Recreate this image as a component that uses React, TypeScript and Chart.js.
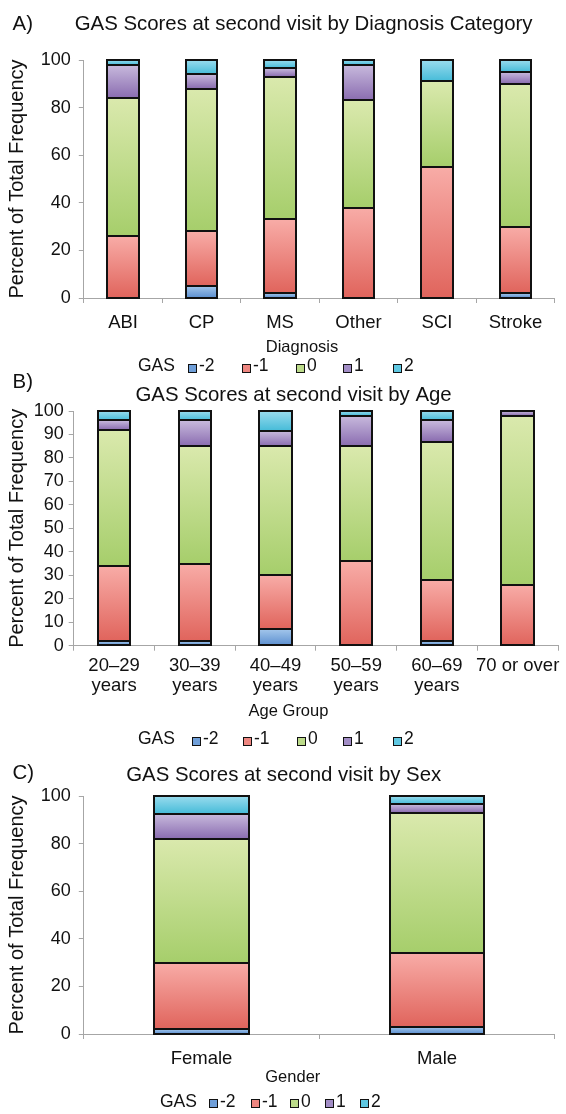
import React, { useEffect, useRef } from 'react';
import { Chart, registerables } from 'chart.js';

Chart.register(...registerables);

const FONT = '"Liberation Sans", Arial, Helvetica, sans-serif';
const AXIS = '#a6a6a6';
const INK = '#111111';

// GAS score levels and colours
const gasLevels = ['-2', '-1', '0', '1', '2'];
const gasTop = ['#a3c6eb', '#f8aca7', '#dae9ad', '#c8badd', '#9adcee'];
const gasBottom = ['#5a8ecf', '#e0645c', '#a6ce6b', '#8a6cb0', '#45bbd8'];
const gasLegend = ['#6f9fd9', '#ee8680', '#bcdb8a', '#a28dc6', '#5fc8e2'];

// Panel A: by diagnosis
const diagnosisLabels = ['ABI', 'CP', 'MS', 'Other', 'SCI', 'Stroke'];
const diagMinus2 = [0, 5, 2, 0, 0, 2];
const diagMinus1 = [26, 23, 31, 38, 55, 28];
const diagZero = [58, 60, 60, 45, 36, 60];
const diagOne = [14, 6, 3.5, 15, 0, 5];
const diagTwo = [2, 6, 3.5, 2, 9, 5];

// Panel B: by age group
const ageLabels = [
  ['20\u201329', 'years'],
  ['30\u201339', 'years'],
  ['40\u201349', 'years'],
  ['50\u201359', 'years'],
  ['60\u201369', 'years'],
  '70 or over',
];
const ageMinus2 = [2, 2, 7, 0, 2, 0];
const ageMinus1 = [32, 33, 23, 36, 26, 26];
const ageZero = [58, 50, 55, 49, 59, 72];
const ageOne = [4, 11, 6.5, 13, 9, 2];
const ageTwo = [4, 4, 8.5, 2, 4, 0];

// Panel C: by sex
const sexLabels = ['Female', 'Male'];
const sexMinus2 = [2, 3];
const sexMinus1 = [28, 31];
const sexZero = [52, 59];
const sexOne = [10.5, 3.5];
const sexTwo = [7.5, 3.5];

type Panel = {
  labels: (string | string[])[];
  series: number[][];
  step: number;
  top: number;
  height: number;
  area: { left: number; right: number; top: number; bottom: number };
  letter: string;
  letterY: number;
  title: string;
  titleX: number;
  titleY: number;
  xTitle: string;
  xTitleX: number;
  xTitleY: number;
  legendY: number;
  gasX: number;
  boxX: number[];
  xTickPad: number;
  yTickPad: number;
};

const panels: Panel[] = [
  {
    labels: diagnosisLabels,
    series: [diagMinus2, diagMinus1, diagZero, diagOne, diagTwo],
    step: 20,
    top: 0,
    height: 382,
    area: { left: 83.8, right: 554.7, top: 60, bottom: 298 },
    letter: 'A)',
    letterY: 24,
    title: 'GAS Scores at second visit by Diagnosis Category',
    titleX: 303.6,
    titleY: 24,
    xTitle: 'Diagnosis',
    xTitleX: 302,
    xTitleY: 347,
    legendY: 366.5,
    gasX: 138,
    boxX: [188, 242, 296, 343, 393],
    xTickPad: 10,
    yTickPad: 8,
  },
  {
    labels: ageLabels,
    series: [ageMinus2, ageMinus1, ageZero, ageOne, ageTwo],
    step: 10,
    top: 370,
    height: 385,
    area: { left: 73.7, right: 558, top: 411, bottom: 645.7 },
    letter: 'B)',
    letterY: 382,
    title: 'GAS Scores at second visit by Age',
    titleX: 293.6,
    titleY: 395,
    xTitle: 'Age Group',
    xTitleX: 288.5,
    xTitleY: 711,
    legendY: 739.5,
    gasX: 138,
    boxX: [192, 243, 297, 343, 393],
    xTickPad: 5,
    yTickPad: 5,
  },
  {
    labels: sexLabels,
    series: [sexMinus2, sexMinus1, sexZero, sexOne, sexTwo],
    step: 20,
    top: 750,
    height: 364,
    area: { left: 83.8, right: 554.7, top: 796, bottom: 1034 },
    letter: 'C)',
    letterY: 773,
    title: 'GAS Scores at second visit by Sex',
    titleX: 283.7,
    titleY: 775,
    xTitle: 'Gender',
    xTitleX: 292.8,
    xTitleY: 1077,
    legendY: 1102,
    gasX: 160,
    boxX: [209, 251, 290, 325, 360],
    xTickPad: 10,
    yTickPad: 8,
  },
];

function gradientFor(series: number[][], i: number) {
  return (ctx: any) => {
    const chart = ctx.chart;
    const y = chart.scales && chart.scales.y;
    if (ctx.type !== 'data' || !y || !chart.chartArea) return gasLegend[i];
    const k = ctx.dataIndex;
    let base = 0;
    for (let d = 0; d < i; d++) base += series[d][k];
    const top = y.getPixelForValue(base + series[i][k]);
    const bot = y.getPixelForValue(base);
    if (!(bot - top > 0.5)) return gasLegend[i];
    const g = chart.ctx.createLinearGradient(0, top, 0, bot);
    g.addColorStop(0, gasTop[i]);
    g.addColorStop(1, gasBottom[i]);
    return g;
  };
}

// crisp black outlines around every bar segment, from the bar elements' geometry
const outlinePlugin = {
  id: 'segmentOutline',
  afterDatasetsDraw(chart: any) {
    const ctx = chart.ctx as CanvasRenderingContext2D;
    ctx.save();
    ctx.strokeStyle = INK;
    ctx.lineWidth = 2;
    chart.data.datasets.forEach((_: any, di: number) => {
      const meta = chart.getDatasetMeta(di);
      meta.data.forEach((el: any) => {
        const { x, y, base, width } = el.getProps(['x', 'y', 'base', 'width'], true);
        if (Math.abs(base - y) < 0.5) return;
        const l = Math.round(x - width / 2);
        const r = Math.round(x + width / 2);
        const t = Math.round(Math.min(y, base));
        const b = Math.round(Math.max(y, base));
        ctx.strokeRect(l, t, r - l, b - t);
      });
    });
    ctx.restore();
  },
};

function textPlugin(p: Panel) {
  return {
    id: 'panelText',
    afterDraw(chart: any) {
      const ctx = chart.ctx as CanvasRenderingContext2D;
      const off = p.top;
      ctx.save();
      ctx.fillStyle = INK;
      ctx.textBaseline = 'middle';
      ctx.font = `20.4px ${FONT}`;
      ctx.textAlign = 'left';
      ctx.fillText(p.letter, 12.6, p.letterY - off);
      ctx.textAlign = 'center';
      ctx.fillText(p.title, p.titleX, p.titleY - off);
      ctx.font = `16.5px ${FONT}`;
      ctx.fillText(p.xTitle, p.xTitleX, p.xTitleY - off);
      ctx.font = `17.5px ${FONT}`;
      ctx.textAlign = 'left';
      ctx.fillText('GAS', p.gasX, p.legendY - off);
      gasLevels.forEach((lv, i) => {
        const bx = p.boxX[i];
        const by = Math.round(p.legendY - off - 3);
        ctx.fillStyle = gasLegend[i];
        ctx.fillRect(bx, by, 9, 9);
        ctx.strokeStyle = INK;
        ctx.lineWidth = 1;
        ctx.strokeRect(bx + 0.5, by + 0.5, 8, 8);
        ctx.fillStyle = INK;
        ctx.fillText(lv, bx + 11, p.legendY - off);
      });
      ctx.restore();
    },
  };
}

function PanelChart({ p }: { p: Panel }) {
  const ref = useRef<HTMLCanvasElement | null>(null);
  useEffect(() => {
    if (!ref.current) return;
    const chart = new Chart(ref.current, {
      type: 'bar',
      data: {
        labels: p.labels as any,
        datasets: p.series.map((d, i) => ({
          label: gasLevels[i],
          data: d,
          backgroundColor: gradientFor(p.series, i) as any,
          borderWidth: 0,
          inflateAmount: 0,
          barPercentage: 0.4,
          categoryPercentage: 1,
        })),
      },
      options: {
        responsive: false,
        animation: false,
        devicePixelRatio: 1,
        events: [],
        layout: {
          padding: { top: p.area.top - p.top, left: 0, right: 566 - p.area.right, bottom: 0 },
        },
        plugins: {
          legend: { display: false },
          title: { display: false },
          tooltip: { enabled: false },
        },
        scales: {
          x: {
            stacked: true,
            grid: { offset: true, drawOnChartArea: false, drawTicks: true, tickLength: 5, color: AXIS },
            border: { color: AXIS, width: 1 },
            ticks: {
              color: INK,
              font: { size: 18.5, family: FONT, lineHeight: 1.08 },
              padding: p.xTickPad,
              autoSkip: false,
              maxRotation: 0,
              minRotation: 0,
            },
            afterFit: (s: any) => {
              s.height = p.top + p.height - p.area.bottom;
              s.paddingLeft = 0;
              s.paddingRight = 0;
            },
          },
          y: {
            stacked: true,
            min: 0,
            max: 100,
            ticks: {
              stepSize: p.step,
              autoSkip: false,
              color: INK,
              font: { size: 18, family: FONT, lineHeight: 1 },
              padding: p.yTickPad,
            },
            grid: { drawOnChartArea: false, drawTicks: true, tickLength: 5, color: AXIS },
            border: { color: AXIS, width: 1 },
            title: {
              display: true,
              text: 'Percent of Total Frequency',
              color: INK,
              font: { size: 20, family: FONT },
              padding: { top: 5, bottom: 0 },
            },
            afterFit: (s: any) => {
              s.width = p.area.left;
              s.paddingTop = 0;
              s.paddingBottom = 0;
            },
          },
        },
      } as any,
      plugins: [outlinePlugin, textPlugin(p)],
    });
    return () => chart.destroy();
  }, [p]);
  return (
    <canvas
      ref={ref}
      width={566}
      height={p.height}
      style={{ position: 'absolute', left: 0, top: p.top, width: 566, height: p.height }}
    />
  );
}

export default function App() {
  useEffect(() => {
    document.body.style.margin = '0';
    document.body.style.background = '#ffffff';
  }, []);
  return (
    <div style={{ position: 'relative', width: 566, height: 1114, background: '#ffffff', overflow: 'hidden' }}>
      {panels.map((p) => (
        <PanelChart key={p.letter} p={p} />
      ))}
    </div>
  );
}
